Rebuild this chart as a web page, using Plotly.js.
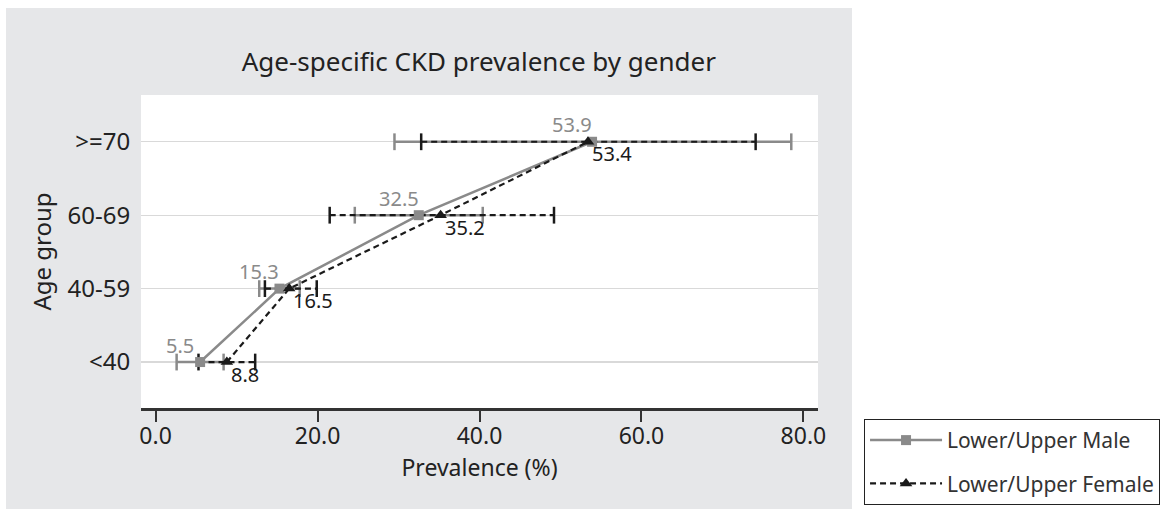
<!DOCTYPE html>
<html>
<head>
<meta charset="utf-8">
<script src="https://cdn.plot.ly/plotly-3.0.1.min.js"></script>
<style>html,body{margin:0;padding:0;background:#fff;}#chart{width:1165px;height:509px;}</style>
</head>
<body>
<div id="chart"></div>
<script>
const ageGroups = ['<40', '40-59', '60-69', '>=70'];
const maleValues = [5.5, 15.3, 32.5, 53.9];
const maleLower = [2.6, 12.8, 24.6, 29.5];
const maleUpper = [8.4, 17.8, 40.4, 78.5];
const femaleValues = [8.8, 16.5, 35.2, 53.4];
const femaleLower = [5.3, 13.5, 21.5, 32.8];
const femaleUpper = [12.3, 19.9, 49.2, 74.1];
const xTicks = [0, 20, 40, 60, 80];

const MALE = '#8a8a8a';
const FEMALE = '#1a1a1a';
const FONT = 'Noto Sans, Open Sans, sans-serif';

function errSegments(lo, hi) {
  const xs = [], ys = [];
  for (let i = 0; i < ageGroups.length; i++) {
    xs.push(lo[i], hi[i], null);
    ys.push(ageGroups[i], ageGroups[i], null);
  }
  return {x: xs, y: ys};
}
const mErr = errSegments(maleLower, maleUpper);
const fErr = errSegments(femaleLower, femaleUpper);

const traces = [
  {x: mErr.x, y: mErr.y, mode: 'lines+markers', showlegend: false, hoverinfo: 'skip',
   line: {color: MALE, width: 2.5},
   marker: {symbol: 'line-ns-open', size: 12, line: {color: MALE, width: 2.5}}},
  {x: fErr.x, y: fErr.y, mode: 'lines+markers', showlegend: false, hoverinfo: 'skip',
   line: {color: FEMALE, width: 2.2, dash: '6px,4px'},
   marker: {symbol: 'line-ns-open', size: 12, line: {color: FEMALE, width: 2.5}}},
  {x: maleValues, y: ageGroups, name: 'Lower/Upper Male', legendgroup: 'm', mode: 'lines+markers',
   line: {color: MALE, width: 2.5},
   marker: {symbol: 'square', size: 10, color: MALE}},
  {x: femaleValues, y: ageGroups, name: 'Lower/Upper Female', legendgroup: 'f', mode: 'lines+markers',
   line: {color: FEMALE, width: 2.2, dash: '6px,4px'},
   marker: {symbol: 'triangle-up', size: 11, color: FEMALE}}
];

const annotations = [];
maleValues.forEach((v, i) => annotations.push({
  x: v, y: ageGroups[i], xref: 'x', yref: 'y', text: v.toFixed(1), showarrow: false,
  xanchor: 'center', yanchor: 'middle', xshift: -20, yshift: 17,
  font: {size: 20, color: MALE, family: FONT}
}));
femaleValues.forEach((v, i) => annotations.push({
  x: v, y: ageGroups[i], xref: 'x', yref: 'y', text: v.toFixed(1), showarrow: false,
  xanchor: 'left', yanchor: 'middle', xshift: 2, yshift: -12,
  font: {size: 20, color: FEMALE, family: FONT}
}));

const layout = {
  width: 1165, height: 509,
  margin: {l: 141, r: 347, t: 95, b: 101, autoexpand: false},
  paper_bgcolor: '#ffffff',
  plot_bgcolor: 'rgba(0,0,0,0)',
  font: {family: FONT, color: '#222'},
  title: {text: 'Age-specific CKD prevalence by gender', x: 0.499, xanchor: 'center', xref: 'paper',
          y: 0.878, yanchor: 'middle', yref: 'container',
          font: {size: 26, color: '#222', family: FONT}},
  xaxis: {
    range: [-1.8, 81.8], tickvals: xTicks, tickformat: '.1f',
    showgrid: false, zeroline: false,
    showline: true, linecolor: '#333', linewidth: 2.5,
    ticks: 'outside', ticklen: 11, tickwidth: 2, tickcolor: '#333',
    ticklabelstandoff: -5,
    tickfont: {size: 23, color: '#222', family: FONT},
    title: {text: 'Prevalence (%)', font: {size: 23, color: '#222', family: FONT}, standoff: 4}
  },
  yaxis: {
    type: 'category', categoryorder: 'array', categoryarray: ageGroups,
    range: [-0.626, 3.637],
    showgrid: true, gridcolor: '#d9d9d9', gridwidth: 1.2,
    zeroline: false, showline: false,
    ticks: 'outside', ticklen: 5, tickcolor: 'rgba(0,0,0,0)',
    tickfont: {size: 24, color: '#222', family: FONT},
    title: {text: 'Age group', font: {size: 24, color: '#222', family: FONT}, standoff: 9}
  },
  legend: {
    x: 1.068, xanchor: 'left', y: -0.035, yanchor: 'top',
    bgcolor: '#ffffff', bordercolor: '#222', borderwidth: 1,
    font: {size: 21, color: '#333', family: FONT}, itemwidth: 72,
    tracegroupgap: 13, traceorder: 'grouped'
  },
  annotations: annotations,
  shapes: [
    {type: 'rect', xref: 'paper', yref: 'paper', x0: -0.1994, x1: 1.0502, y0: -0.36, y1: 1.2777,
     fillcolor: '#e6e7e9', line: {width: 0}, layer: 'below'},
    {type: 'rect', xref: 'paper', yref: 'paper', x0: 0, x1: 1, y0: 0, y1: 1,
     fillcolor: '#ffffff', line: {width: 0}, layer: 'below'}
  ],
  showlegend: true
};

Plotly.newPlot('chart', traces, layout, {displayModeBar: false, staticPlot: true});
</script>
</body>
</html>
